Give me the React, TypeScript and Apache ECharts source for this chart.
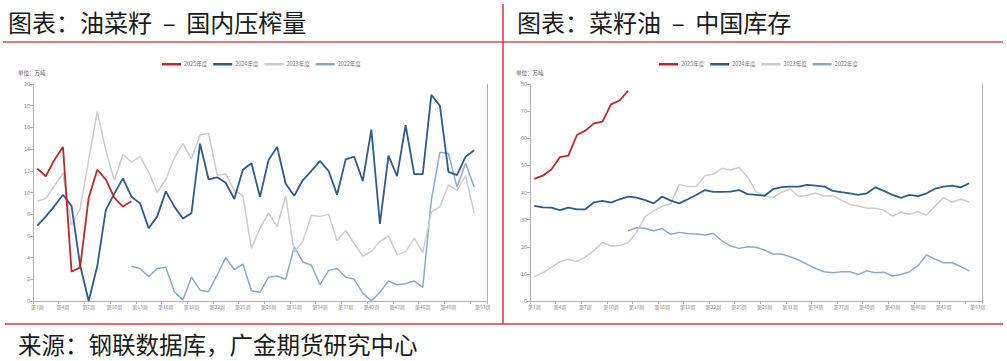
import React, { useEffect, useRef } from "react";
import * as echarts from "echarts";

// ---- categories ----
const weeks: string[] = Array.from({ length: 53 }, (_, i) => `第${i + 1}周`);
const seriesNames = ["2025年度", "2024年度", "2023年度", "2022年度"];

// ---- left: 油菜籽 国内压榨量 (万吨) ----
const crush2025 = [12.2, 11.5, 13.0, 14.2, 2.7, 3.1, 9.5, 12.1, 11.2, 9.5, 8.7, 9.2];
const crush2024 = [6.95, 7.8, 8.75, 9.8, 8.75, 3.3, 0, 3.2, 8.4, 9.9, 11.3, 9.6, 9.0, 6.7, 7.8, 10.1, 8.7, 7.6, 8.1, 14.5, 11.2, 11.4, 10.9, 9.4, 12.1, 12.7, 9.6, 13.0, 14.2, 10.8, 9.7, 11.15, 12.0, 12.9, 12.0, 9.8, 13.05, 13.3, 11.06, 15.8, 7.1, 13.4, 11.5, 16.2, 11.7, 11.7, 19.0, 18.0, 11.9, 11.6, 13.3, 13.9];
const crush2023 = [9.2, 9.46, 10.6, 11.8, 7.0, 8.5, 13.0, 17.45, 13.9, 11.1, 13.5, 12.8, 13.3, 11.9, 10.0, 11.2, 13.2, 14.5, 13.1, 15.3, 15.45, 11.6, 11.7, 10.2, 9.7, 4.85, 6.7, 8.1, 6.85, 9.7, 4.5, 5.5, 7.9, 7.8, 8.0, 5.56, 6.5, 5.3, 4.15, 4.55, 5.5, 6.0, 4.25, 4.55, 5.8, 4.45, 8.2, 8.7, 10.7, 10.2, 11.55, 8.1];
const crush2022 = [null, null, null, null, null, null, null, null, null, null, null, 3.2, 3.0, 2.25, 3.0, 3.1, 0.85, 0.1, 2.2, 1.0, 0.86, 2.4, 4.0, 2.9, 3.4, 0.95, 0.8, 2.2, 2.3, 2.0, 5.0, 3.6, 3.3, 1.5, 2.8, 3.0, 2.2, 2.0, 0.7, 0.03, 0.8, 1.85, 1.5, 1.6, 1.85, 1.25, 9.3, 13.7, 13.6, 10.5, 12.7, 10.5];

// ---- right: 菜籽油 中国库存 (万吨) ----
const stock2025 = [45.0, 46.2, 48.5, 53.0, 53.6, 61.2, 62.8, 65.5, 66.1, 72.5, 73.9, 77.5];
const stock2024 = [35.1, 34.5, 34.4, 33.5, 34.4, 33.8, 33.8, 36.4, 36.9, 36.3, 37.5, 38.5, 38.1, 37.2, 36.0, 38.5, 37.0, 36.0, 37.5, 39.1, 40.9, 40.2, 40.2, 40.3, 40.9, 39.4, 39.1, 38.8, 41.2, 42.0, 42.2, 42.2, 42.8, 42.5, 42.2, 40.6, 40.1, 39.7, 39.1, 39.7, 41.9, 40.6, 39.1, 38.0, 39.1, 38.7, 39.7, 41.4, 42.2, 42.5, 41.9, 43.4];
const stock2023 = [9.0, 10.4, 12.4, 14.5, 15.4, 14.5, 16.3, 18.6, 21.6, 20.3, 20.5, 21.5, 25.3, 31.1, 33.2, 35.0, 35.8, 43.0, 42.2, 42.2, 46.2, 46.8, 48.9, 48.3, 49.2, 45.8, 40.3, 38.9, 38.1, 40.1, 41.3, 38.5, 39.0, 39.7, 38.7, 38.8, 37.2, 35.6, 35.0, 34.2, 34.2, 33.5, 31.3, 32.7, 32.0, 32.9, 31.7, 35.0, 38.1, 36.4, 37.6, 36.4];
const stock2022 = [null, null, null, null, null, null, null, null, null, null, null, 25.9, 27.0, 26.8, 25.9, 26.7, 24.6, 25.3, 24.9, 24.7, 24.3, 24.9, 22.2, 20.3, 19.4, 20.0, 19.8, 18.8, 17.3, 17.3, 16.3, 15.1, 13.5, 12.0, 10.8, 10.4, 10.8, 10.8, 9.8, 11.1, 10.4, 10.6, 9.2, 9.8, 10.8, 13.0, 17.0, 15.4, 14.1, 14.1, 12.7, 11.1];

const colors = ["#c0272d", "#2e5b8e", "#cdcdcd", "#8eaacb"];
const widths = [1.8, 1.8, 1.5, 1.5];

const labelShown = (i: number) => (i % 3 === 0 && i <= 48) || i === 52;
const tickShown = (i: number) => i % 3 === 0;

export default function App() {
  const ref = useRef<HTMLDivElement>(null);
  useEffect(() => {
    if (!ref.current) return;
    const chart = echarts.init(ref.current, null, { renderer: "svg" });
    const cjk = '"Noto Sans CJK SC", "Noto Sans", sans-serif';

    const makeX = (gridIndex: number) => ({
      type: "category",
      gridIndex,
      data: weeks,
      boundaryGap: true,
      axisLine: { show: true, lineStyle: { color: "#b0b0b0", width: 1 } },
      axisTick: { show: true, interval: tickShown, length: 3, lineStyle: { color: "#b0b0b0" } },
      axisLabel: { interval: labelShown, fontSize: 5, color: "#8a8a8a", margin: 3, fontFamily: cjk },
      splitLine: { show: false },
    });
    const makeY = (gridIndex: number, max: number, interval: number) => ({
      type: "value",
      gridIndex,
      min: 0,
      max,
      interval,
      axisLine: { show: true, lineStyle: { color: "#b0b0b0", width: 1 } },
      axisTick: { show: true, length: 3, lineStyle: { color: "#b0b0b0" } },
      axisLabel: { fontSize: 5.5, color: "#8a8a8a", margin: 3, fontFamily: cjk },
      splitLine: { show: false },
    });
    const makeYRight = (gridIndex: number, max: number, interval: number) => ({
      type: "value",
      gridIndex,
      position: "right",
      min: 0,
      max,
      interval,
      axisLine: { show: true, lineStyle: { color: "#b0b0b0", width: 1 } },
      axisTick: { show: false },
      axisLabel: { show: false },
      splitLine: { show: false },
    });

    const leftData = [crush2025, crush2024, crush2023, crush2022];
    const rightData = [stock2025, stock2024, stock2023, stock2022];
    const mk = (data: (number | null)[], k: number, xi: number, yi: number) => ({
      name: seriesNames[k],
      type: "line",
      xAxisIndex: xi,
      yAxisIndex: yi,
      data: data.map((v) => (v === null ? "-" : v)),
      symbol: "none",
      z: 10 - k,
      lineStyle: { color: colors[k], width: widths[k] },
      itemStyle: { color: colors[k] },
    });

    const legendBase = {
      top: 56.5,
      icon: "rect",
      itemWidth: 19,
      itemHeight: 2.5,
      itemGap: 6,
      textStyle: { fontSize: 5.5, color: "#777", fontFamily: cjk, padding: [0, 0, 0, -2] },
      data: seriesNames,
      selectedMode: false,
    };

    chart.setOption({
      animation: false,
      backgroundColor: "#ffffff",
      color: colors,
      grid: [
        { left: 33, right: 520, top: 84, bottom: 60 },
        { left: 530, right: 25, top: 84, bottom: 60 },
      ],
      legend: [
        { ...legendBase, left: 157 },
        { ...legendBase, left: 654 },
      ],
      xAxis: [makeX(0), makeX(1)],
      yAxis: [makeY(0, 20, 2), makeYRight(0, 20, 2), makeY(1, 80, 10), makeYRight(1, 80, 10)],
      series: [
        ...leftData.map((d, k) => mk(d, k, 0, 0)),
        ...rightData.map((d, k) => mk(d, k, 1, 2)),
      ],
      graphic: [
        { type: "line", shape: { x1: 3, y1: 42, x2: 1003, y2: 42 }, style: { stroke: "#e37878", lineWidth: 2 } },
        { type: "line", shape: { x1: 503, y1: 4, x2: 503, y2: 324 }, style: { stroke: "#e0343a", lineWidth: 1.5 } },
        { type: "line", shape: { x1: 5, y1: 324, x2: 1003, y2: 324 }, style: { stroke: "#e0343a", lineWidth: 1.5 } },
        { type: "text", x: 8, y: 21, style: { text: "图表：油菜籽  –  国内压榨量", font: `24px ${cjk}`, fill: "#1a1a1a", textVerticalAlign: "middle" } },
        { type: "text", x: 517, y: 21, style: { text: "图表：菜籽油  –  中国库存", font: `24px ${cjk}`, fill: "#1a1a1a", textVerticalAlign: "middle" } },
        { type: "text", x: 18, y: 73, style: { text: "单位：万吨", font: `5.5px ${cjk}`, fill: "#555", textVerticalAlign: "middle" } },
        { type: "text", x: 516, y: 73, style: { text: "单位：万吨", font: `5.5px ${cjk}`, fill: "#555", textVerticalAlign: "middle" } },
        { type: "text", x: 18, y: 344, style: { text: "来源：钢联数据库，广金期货研究中心", font: `23.5px ${cjk}`, fill: "#1a1a1a", textVerticalAlign: "middle" } },
      ],
    });
    return () => chart.dispose();
  }, []);

  return (
    <div
      ref={ref}
      style={{ position: "fixed", left: 0, top: 0, width: 1007, height: 361, background: "#fff" }}
    />
  );
}
